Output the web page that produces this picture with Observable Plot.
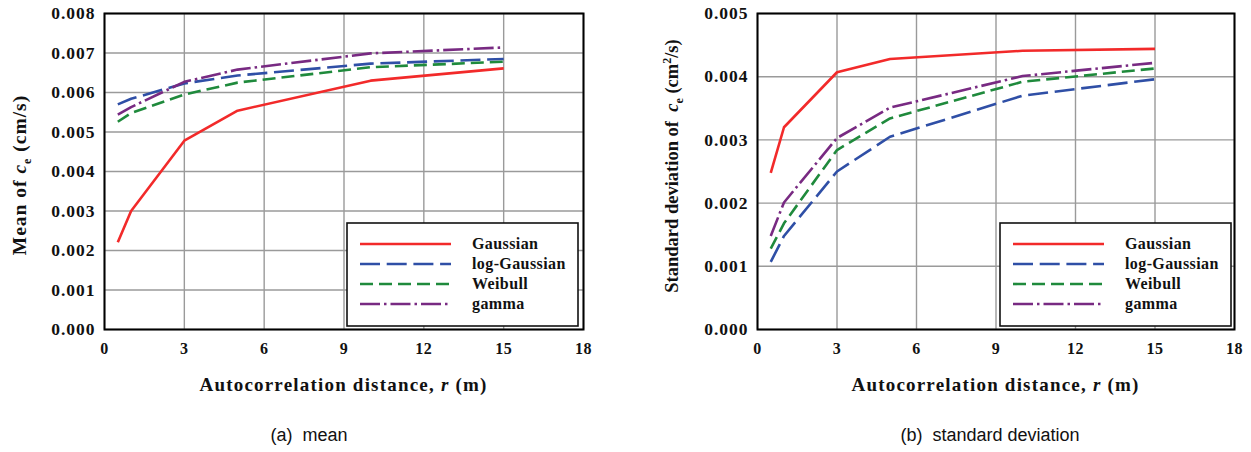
<!DOCTYPE html>
<html>
<head>
<meta charset="utf-8">
<script src="https://cdn.jsdelivr.net/npm/d3@7"></script>
<script src="https://cdn.jsdelivr.net/npm/@observablehq/plot@0.6"></script>
<style>
  html, body { margin: 0; padding: 0; background: #fff; }
  #wrap { position: relative; width: 1251px; height: 452px; overflow: hidden; }
  .panel { position: absolute; top: 0; max-width: none !important; }
  .panel text { font-family: "Liberation Serif", "Times New Roman", serif !important; font-weight: bold; }
  .panel g[aria-label="y-axis tick label"] text { letter-spacing: 1px; }
  .panel g[aria-label="x-axis tick label"] text { letter-spacing: 0.5px; }
  .caption { position: absolute; font-family: "Liberation Sans", Arial, sans-serif; font-size: 18px; color: #111; white-space: pre; transform: translateX(-50%); }
</style>
</head>
<body>
<div id="wrap"></div>
<script>
// ---------- data ----------
const r = [0.5, 1, 3, 5, 10, 15];
const seriesNames = ["Gaussian", "log-Gaussian", "Weibull", "gamma"];
const meanGaussian    = [0.00221, 0.00300, 0.00478, 0.00554, 0.00630, 0.00661];
const meanLogGaussian = [0.00570, 0.00584, 0.00623, 0.00643, 0.00673, 0.00685];
const meanWeibull     = [0.00526, 0.00548, 0.00595, 0.00625, 0.00664, 0.00678];
const meanGamma       = [0.00544, 0.00563, 0.00627, 0.00658, 0.00699, 0.00714];
const sdGaussian      = [0.00248, 0.00320, 0.00407, 0.00428, 0.00441, 0.00444];
const sdLogGaussian   = [0.00107, 0.00148, 0.00250, 0.00305, 0.00370, 0.00396];
const sdWeibull       = [0.00128, 0.00168, 0.00284, 0.00334, 0.00392, 0.00413];
const sdGamma         = [0.00148, 0.00201, 0.00303, 0.00351, 0.00401, 0.00422];
const xTicks = [0, 3, 6, 9, 12, 15, 18];
const meanTicks = [0, 0.001, 0.002, 0.003, 0.004, 0.005, 0.006, 0.007, 0.008];
const sdTicks = [0, 0.001, 0.002, 0.003, 0.004, 0.005];

// ---------- styles ----------
const colors = {"Gaussian": "#f22a2a", "log-Gaussian": "#2f4fa6", "Weibull": "#1f8a3c", "gamma": "#782a82"};
const dashes = {"Gaussian": null, "log-Gaussian": "20,6.7", "Weibull": "13,6", "gamma": "20,4,2.5,4"};

function build(values, yTicks, opts) {
  const marks = [
    Plot.gridX(xTicks, {stroke: "#9a9a9a", strokeOpacity: 1, strokeWidth: 1.4}),
    Plot.gridY(yTicks, {stroke: "#9a9a9a", strokeOpacity: 1, strokeWidth: 1.4}),
    Plot.frame({stroke: "#000", strokeWidth: 2}),
    Plot.axisX(xTicks, {tickSize: 0, tickPadding: 13, label: null, tickFormat: d => String(d),
      fontSize: 16, fontWeight: "bold", fill: "#111"}),
    Plot.axisY(yTicks, {tickSize: 0, tickPadding: 9, label: null, tickFormat: d3.format(".3f"),
      fontSize: 17.5, fontWeight: "bold", fill: "#111"})
  ];
  seriesNames.forEach((name, i) => {
    const data = r.map((x, j) => ({x, y: values[i][j]}));
    marks.push(Plot.line(data, {x: "x", y: "y", stroke: colors[name], strokeWidth: 2.6,
      strokeDasharray: dashes[name] || undefined, strokeLinejoin: "round", strokeLinecap: "butt"}));
  });
  const svg = Plot.plot({
    width: opts.width, height: 400,
    marginLeft: opts.ml, marginRight: opts.mr, marginTop: 13, marginBottom: 71,
    x: {domain: [0, 18]},
    y: {domain: [0, yTicks[yTicks.length - 1]]},
    style: {background: "transparent", overflow: "visible"},
    marks
  });
  const s = d3.select(svg);
  // x-axis title
  const xt = s.append("text")
    .attr("x", opts.ml + (opts.width - opts.ml - opts.mr) / 2).attr("y", 391)
    .attr("text-anchor", "middle").attr("letter-spacing", "1.2px")
    .attr("font-size", 19).attr("fill", "#111");
  xt.append("tspan").text("Autocorrelation distance, ");
  xt.append("tspan").attr("font-style", "italic").text("r");
  xt.append("tspan").text(" (m)");
  // y-axis title
  const yt = s.append("text")
    .attr("transform", `translate(${opts.ylx},${opts.yly}) rotate(-90)`)
    .attr("text-anchor", "middle").attr("letter-spacing", opts.yls)
    .attr("font-size", opts.yfs).attr("fill", "#111");
  opts.yLabel(yt);
  // legend
  const lg = s.append("g");
  lg.append("rect").attr("x", opts.lgx).attr("y", 223).attr("width", 231).attr("height", 103)
    .attr("fill", "#fff").attr("stroke", "#111").attr("stroke-width", 1.6);
  seriesNames.forEach((name, i) => {
    const yy = 244 + i * 20;
    lg.append("line").attr("x1", opts.lgx + 13).attr("x2", opts.lgx + 104)
      .attr("y1", yy).attr("y2", yy).attr("stroke", colors[name]).attr("stroke-width", 2.6)
      .attr("stroke-dasharray", dashes[name]);
    lg.append("text").attr("x", opts.lgx + 125).attr("y", yy + 5)
      .attr("text-anchor", "start").attr("font-size", 16).attr("letter-spacing", "0.4px")
      .attr("fill", "#111").text(name);
  });
  return svg;
}

const wrap = document.getElementById("wrap");

const left = build([meanGaussian, meanLogGaussian, meanWeibull, meanGamma], meanTicks, {
  width: 625, ml: 104, mr: 42, ylx: 26, yly: 175, yfs: 19.5, yls: "1px", lgx: 347,
  yLabel: t => {
    t.append("tspan").text("Mean of ");
    t.append("tspan").attr("font-style", "italic").text("c");
    t.append("tspan").attr("font-size", 12).attr("dy", 5).text("e");
    t.append("tspan").attr("dy", -5).text(" (cm/s)");
  }
});
left.classList.add("panel");
left.style.left = "0px";
wrap.appendChild(left);

const right = build([sdGaussian, sdLogGaussian, sdWeibull, sdGamma], sdTicks, {
  width: 626, ml: 132, mr: 17, ylx: 53, yly: 166, yfs: 18.5, yls: "0px", lgx: 375,
  yLabel: t => {
    t.append("tspan").text("Standard deviation of  ");
    t.append("tspan").attr("font-style", "italic").text("c");
    t.append("tspan").attr("font-size", 12).attr("dy", 5).text("e");
    t.append("tspan").attr("dy", -5).text(" (cm");
    t.append("tspan").attr("font-size", 12).attr("dy", -7).text("2");
    t.append("tspan").attr("dy", 7).text("/s)");
  }
});
right.classList.add("panel");
right.style.left = "625px";
wrap.appendChild(right);

// captions
[["(a)  mean", 309], ["(b)  standard deviation", 990]].forEach(([txt, cx]) => {
  const d = document.createElement("div");
  d.className = "caption";
  d.textContent = txt;
  d.style.left = cx + "px";
  d.style.top = "425px";
  wrap.appendChild(d);
});
</script>
</body>
</html>
